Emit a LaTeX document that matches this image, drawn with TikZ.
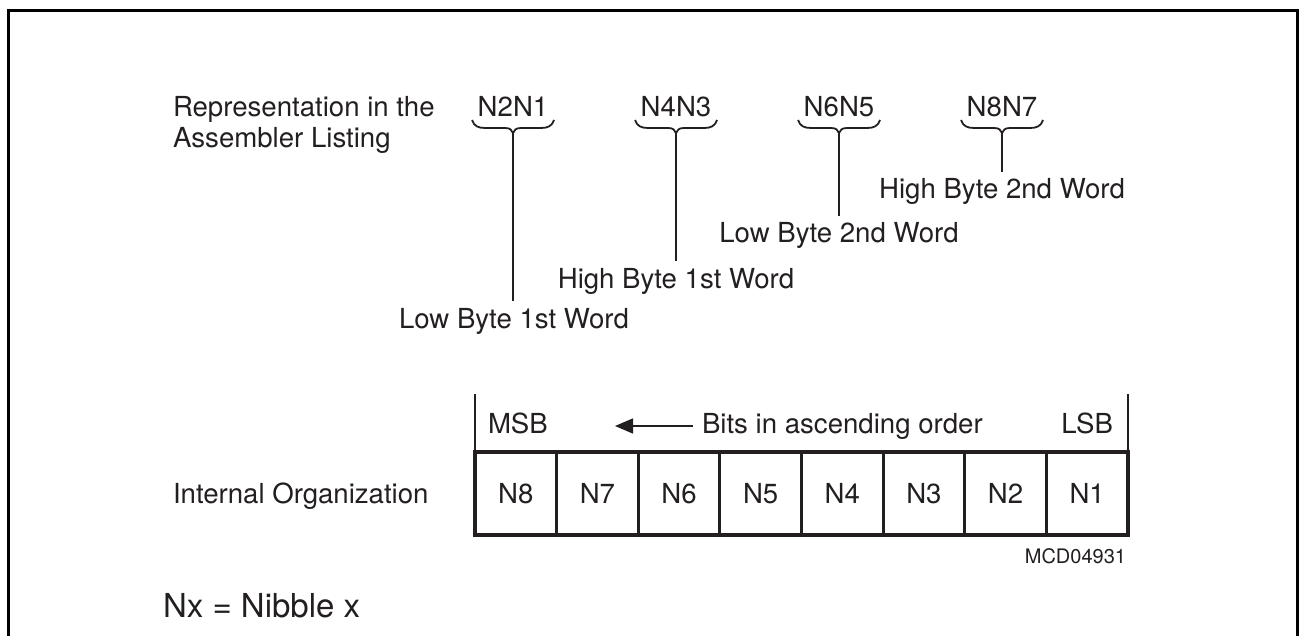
\documentclass[tikz,border=0pt]{standalone}
\usepackage{fontspec}
\setmainfont{TeX Gyre Heros}
\usetikzlibrary{arrows.meta}
\definecolor{ink}{HTML}{231F20}
\tikzset{
  lbl/.style={inner sep=0pt, outer sep=0pt, text=ink, font=\fontsize{27.6}{31}\selectfont},
  small/.style={inner sep=0pt, outer sep=0pt, text=ink, font=\fontsize{20}{24}\selectfont},
  big/.style={inner sep=0pt, outer sep=0pt, text=ink, font=\fontsize{33}{38}\selectfont},
  cell/.style={draw=ink, line width=3.2pt, minimum width=81.625pt, minimum height=83pt,
    inner sep=0pt, outer sep=0pt, text=ink, font=\fontsize{27.6}{31}\selectfont},
  conn/.style={draw=ink, line width=2.2pt, shorten >=7pt},
  frame/.style={draw=black, line width=3pt},
  thin/.style={draw=ink, line width=1.6pt},
  arr/.style={draw=ink, line width=1.6pt, -{Triangle[length=18pt,width=15pt]}, shorten <=9pt},
  ubrace/.pic={
    \draw[ink, line width=1.8pt] (-41,-13) .. controls (-39,-7) and (-35,-5) .. (-28,-5)
      -- (-8,-5) .. controls (-3,-5) and (-1,-3) .. (0,0)
      .. controls (1,-3) and (3,-5) .. (8,-5) -- (28,-5)
      .. controls (35,-5) and (39,-7) .. (41,-13);
    \coordinate (-tip) at (0,0);
  }
}
\begin{document}
\begin{tikzpicture}[x=1pt,y=-1pt]
\useasboundingbox (0,0) rectangle (1300,636);
% frame (open at bottom)
\draw[frame] (8,636) -- (8,11) -- (1297,11) -- (1297,636);

% assembler listing
\node[lbl, anchor=north west, align=left] (rep) at (173,96.5) {Representation in the\\Assembler Listing};
\node[lbl, anchor=base] (t1) at (513,117) {N2N1};
\node[lbl, anchor=base] (t2) at (676,117) {N4N3};
\node[lbl, anchor=base] (t3) at (839,117) {N6N5};
\node[lbl, anchor=base] (t4) at (1002,117) {N8N7};
\pic (b1) at (513,133) {ubrace};
\pic (b2) at (676,133) {ubrace};
\pic (b3) at (839,133) {ubrace};
\pic (b4) at (1002,133) {ubrace};

\node[lbl, anchor=base] (l1) at (514,328) {Low Byte 1st Word};
\node[lbl, anchor=base] (l2) at (676,288) {High Byte 1st Word};
\node[lbl, anchor=base] (l3) at (839,243) {Low Byte 2nd Word};
\node[lbl, anchor=base] (l4) at (1002,199) {High Byte 2nd Word};
\draw[conn] (b1-tip) -- (b1-tip |- l1.north);
\draw[conn] (b2-tip) -- (b2-tip |- l2.north);
\draw[conn] (b3-tip) -- (b3-tip |- l3.north);
\draw[conn] (b4-tip) -- (b4-tip |- l4.north);

% internal organization
\node[lbl, anchor=base west] (io) at (173,503) {Internal Organization};
\foreach \n [count=\i from 0] in {8,7,6,5,4,3,2,1} {
  \node[cell] (c\n) at ({475+81.625*(\i+0.5)},493.5) {N\n};
}
\coordinate (tl) at (475,394);
\coordinate (tr) at (1128,394);
\draw[thin] (c8.north west) -- (tl);
\draw[thin] (c1.north east) -- (tr);
\node[lbl, anchor=base west] (msb) at (488,433) {MSB};
\node[lbl, anchor=base east] (lsb) at (1113,433) {LSB};
\node[lbl, anchor=base west] (bits) at (702,433) {Bits in ascending order};
\coordinate (ahead) at (615,426);
\draw[arr] (bits.west |- ahead) -- (ahead);

\node[small, anchor=base east] (mcd) at (1126,563) {MCD04931};
\node[big, anchor=base west] (nx) at (163,617) {Nx = Nibble x};
\end{tikzpicture}
\end{document}
